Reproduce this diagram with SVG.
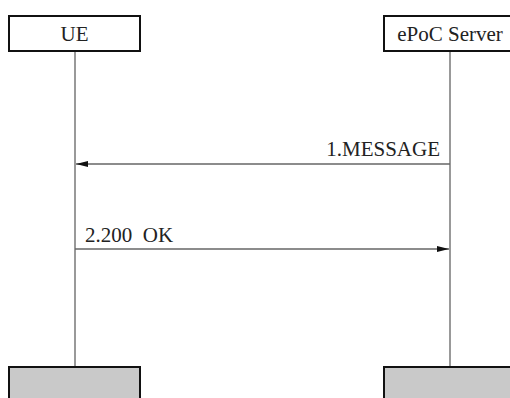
<svg xmlns="http://www.w3.org/2000/svg" width="510" height="398" viewBox="0 0 510 398">
<style>
.box{fill:#fff;stroke:#111;stroke-width:2}
.endbox{fill:#c9c9c9;stroke:#111;stroke-width:2}
.life{stroke:#777;stroke-width:1.5}
.msg{stroke:#666;stroke-width:1.5;fill:none}
text{font-family:"Liberation Serif","Times New Roman",serif;font-size:21px;fill:#222}
</style>
<defs>
<marker id="ah" viewBox="0 0 12 6" refX="12" refY="3" markerWidth="12" markerHeight="6" markerUnits="userSpaceOnUse" orient="auto">
<path d="M0,0 L12,3 L0,6 z" fill="#111"/>
</marker>
</defs>
<g id="lifelines">
<line class="life" x1="75" y1="51" x2="75" y2="367"/>
<line class="life" x1="450" y1="51" x2="450" y2="367"/>
</g>
<g id="ue">
<rect class="box" x="9" y="16" width="131" height="35"/>
<text x="74.5" y="41" text-anchor="middle">UE</text>
</g>
<g id="server">
<rect class="box" x="384" y="16" width="130" height="35"/>
<text x="450" y="41" text-anchor="middle">ePoC Server</text>
</g>
<g id="ue-end">
<rect class="endbox" x="9" y="367" width="131" height="40"/>
</g>
<g id="server-end">
<rect class="endbox" x="384" y="367" width="130" height="40"/>
</g>
<g id="connectors">
<line class="msg" x1="450" y1="164" x2="76" y2="164" marker-end="url(#ah)"/>
<text x="440" y="156" text-anchor="end">1.MESSAGE</text>
<line class="msg" x1="75" y1="249" x2="449" y2="249" marker-end="url(#ah)"/>
<text x="85" y="242" xml:space="preserve">2.200  OK</text>
</g>
</svg>
